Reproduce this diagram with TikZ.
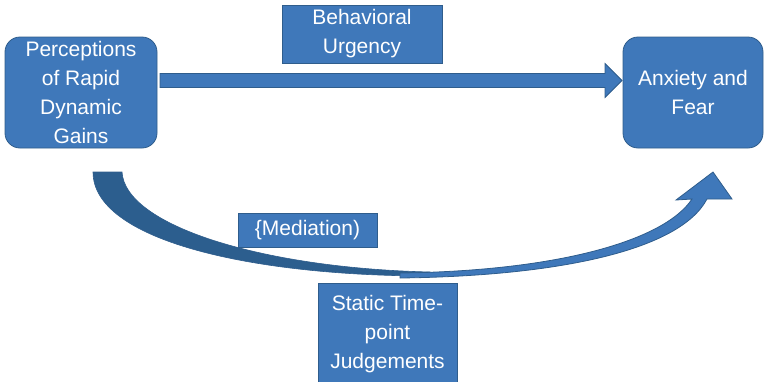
\documentclass[tikz,border=0pt]{standalone}
\usepackage{fontspec}
\setmainfont{Liberation Sans}
\usetikzlibrary{calc}
\definecolor{pblue}{HTML}{3F78BA}
\definecolor{pedge}{HTML}{2F5D8C}
\definecolor{pdark}{HTML}{2C5E8E}

\begin{document}
\begin{tikzpicture}[x=1pt, y=-1pt, font=\fontsize{21}{29}\selectfont,
  box/.style={draw=pedge, line width=0.8pt, fill=pblue, text=white, align=center,
              inner sep=0pt, outer sep=0pt},
  rbox/.style={box, rounded corners=15pt, minimum width=146pt, minimum height=111pt},
  flatarrow/.style={draw=pedge, line width=0.8pt, fill=pblue, line join=miter},
  backarrow/.style={draw=pedge, line width=0.6pt, fill=pdark}]
\useasboundingbox (0,0) rectangle (765,381);
% ---------------- main boxes
\node[rbox, minimum width=152pt] (perc) at (81,92.5) {Perceptions\\ of Rapid\\ Dynamic\\ Gains};
\node[rbox, minimum width=140pt] (anx) at (693,92.5) {Anxiety and\\ Fear};
% ---------------- labels
\node[box, minimum width=160pt, minimum height=58pt] (urg) at (362,34) {Behavioral\\ Urgency};
\node[box, minimum width=139pt, minimum height=34pt] (med) at (307.5,230) {\{Mediation)};
\node[box, minimum width=139pt, minimum height=102pt] (stat) at (387.5,334) {Static Time-\\ point\\ Judgements};
% ---------------- straight block arrow
\coordinate (s0) at ($(perc.east)+(3,-12)$);
\coordinate (s1) at ($(anx.west)+(-1,-12)$);
\draw[flatarrow] ($(s0)+(0,-7)$) -- ($(s1)+(-17,-7)$) -- ($(s1)+(-17,-17)$) -- (s1)
  -- ($(s1)+(-17,17)$) -- ($(s1)+(-17,7)$) -- ($(s0)+(0,7)$) -- cycle;
% ---------------- curved arrow below
\coordinate (m0) at ($(perc.south)+(12,24)$);
\coordinate (m1) at ($(anx.south)+(20,24)$);
\draw[backarrow] (m0) .. controls ($(m0)+(0,68)$) and ($(m0)+(157,104)$) .. ($(m0)+(337,104)$)
  -- ($(m0)+(337,100)$) .. controls ($(m0)+(167,96)$) and ($(m0)+(32,53)$) .. ($(m0)+(29,0)$) -- cycle;
\draw[flatarrow] ($(m1)+(-313,106)$) .. controls ($(m1)+(-153,104)$) and ($(m1)+(-33,78)$) .. ($(m1)+(-6,27)$)
  -- ($(m1)+(19,27)$) -- (m1) -- ($(m1)+(-37,28)$) -- ($(m1)+(-21,27)$)
  .. controls ($(m1)+(-48,68)$) and ($(m1)+(-153,99)$) .. ($(m1)+(-313,101)$) -- cycle;
\end{tikzpicture}
\end{document}
